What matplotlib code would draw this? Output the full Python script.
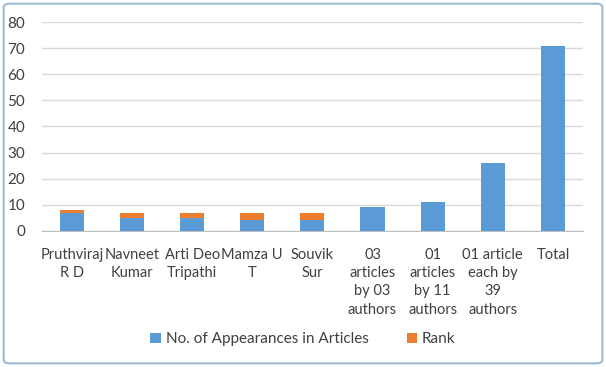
import numpy as np
import matplotlib.pyplot as plt
from matplotlib.patches import FancyBboxPatch

plt.rcParams['font.family'] = ['Lato', 'DejaVu Sans']

categories = ['Pruthviraj\nR D', 'Navneet\nKumar', 'Arti Deo\nTripathi', 'Mamza U\nT',
              'Souvik\nSur', '03\narticles\nby 03\nauthors', '01\narticles\nby 11\nauthors',
              '01 article\neach by\n39\nauthors', 'Total']
appearances = [7, 5, 5, 4, 4, 9, 11, 26, 71]
rank = [1, 2, 2, 3, 3, 0, 0, 0, 0]

fig = plt.figure(figsize=(6.06, 3.67), dpi=100)
ax = fig.add_axes([0.069, 0.371, 0.893, 0.569])

x = np.arange(len(categories))
ax.bar(x, appearances, width=0.4, color='#5B9BD5', label='No. of Appearances in Articles', zorder=3)
ax.bar(x, rank, width=0.4, bottom=appearances, color='#ED7D31', label='Rank', zorder=3)

ax.set_ylim(0, 80)
ax.set_yticks(range(0, 81, 10))
ax.set_xlim(-0.5, len(categories) - 0.5)
ax.set_xticks(x)
ax.set_xticklabels(categories, fontsize=10.5, color='#404040', linespacing=1.4)
ax.tick_params(axis='y', labelsize=11, labelcolor='#404040', length=0, pad=12)
ax.tick_params(axis='x', length=0, pad=12)
ax.grid(axis='y', color='#D9D9D9', linewidth=1, zorder=0)
for s in ['top', 'right', 'left']:
    ax.spines[s].set_visible(False)
ax.spines['bottom'].set_color('#BFBFBF')

fig.legend(loc='center', bbox_to_anchor=(0.5, 0.075), ncol=2, frameon=False,
           fontsize=11, handlelength=0.7, handleheight=0.7, columnspacing=2.5,
           handletextpad=0.3, labelcolor='#404040')

border = FancyBboxPatch((0.006, 0.01), 0.988, 0.98, boxstyle='round,pad=0,rounding_size=0.01',
                        transform=fig.transFigure, fill=False, edgecolor='#9DBBD0', linewidth=1.5)
fig.patches.append(border)

fig.savefig('out.png', dpi=100)
